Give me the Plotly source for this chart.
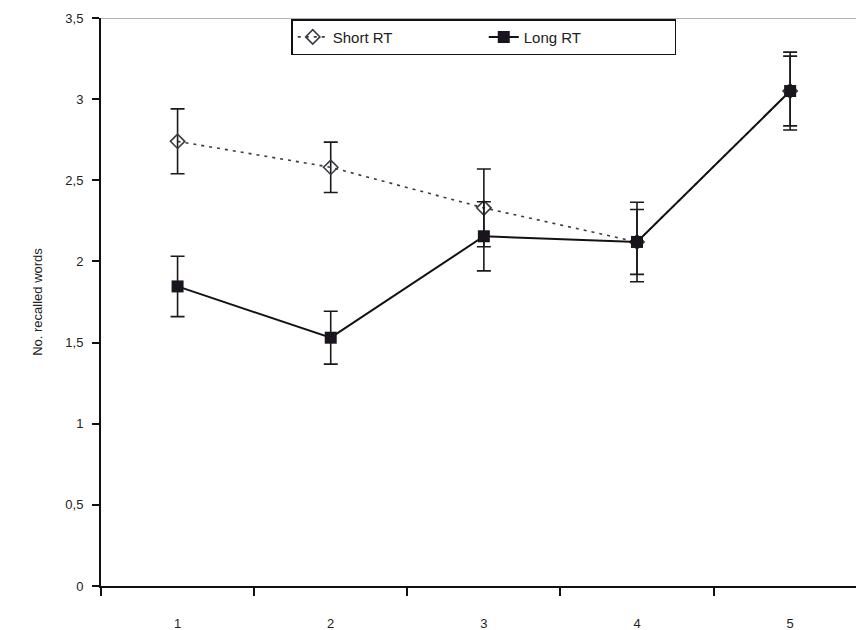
import plotly.graph_objects as go

sessions = [1, 2, 3, 4, 5]
short_rt = [2.74, 2.58, 2.33, 2.12, 3.05]
short_err = [0.20, 0.155, 0.24, 0.245, 0.24]
long_rt = [1.846, 1.53, 2.155, 2.12, 3.05]
long_err = [0.186, 0.163, 0.213, 0.20, 0.215]

y_ticks = [0, 0.5, 1, 1.5, 2, 2.5, 3, 3.5]
y_ticktext = ["0", "0,5", "1", "1,5", "2", "2,5", "3", "3,5"]
x_ticktext = ["1", "2", "3", "4", "5"]
x_boundaries = [0.5, 1.5, 2.5, 3.5, 4.5, 5.5]

FONT = "Liberation Sans, Arial, sans-serif"

fig = go.Figure()
fig.add_trace(go.Scatter(
    x=sessions, y=short_rt, name="Short RT", mode="lines+markers",
    line=dict(color="#3a3a40", width=1.6, dash="3px,5px"),
    marker=dict(symbol="diamond-open", size=11, color="#3a3a40", line=dict(width=1.6)),
    error_y=dict(type="data", array=short_err, visible=True, color="#1a1a1a", thickness=1.6, width=7),
))
fig.add_trace(go.Scatter(
    x=sessions, y=long_rt, name="Long RT", mode="lines+markers",
    line=dict(color="#151015", width=2),
    marker=dict(symbol="square", size=12, color="#1a141e"),
    error_y=dict(type="data", array=long_err, visible=True, color="#1a1a1a", thickness=1.6, width=7),
))

fig.add_shape(type="line", xref="paper", yref="y", x0=0, x1=1, y0=y_ticks[-1], y1=y_ticks[-1],
              line=dict(color="#8e9aa6", width=1.5), layer="below")

fig.update_layout(
    width=856, height=630,
    margin=dict(l=101, r=0, t=18, b=44),
    paper_bgcolor="white", plot_bgcolor="white",
    font=dict(family=FONT, color="#222222", size=12),
    showlegend=True,
    legend=dict(
        orientation="h", x=0.252, y=0.998, xanchor="left", yanchor="top",
        bordercolor="#111111", borderwidth=1.5, bgcolor="white",
        font=dict(size=15, family=FONT, color="#222222"),
        entrywidth=146, entrywidthmode="pixels",
    ),
    xaxis=dict(
        range=[0.5, 5.43], tickvals=sessions, ticktext=x_ticktext, ticks="",
        ticklabelstandoff=24, showgrid=False, zeroline=False,
        showline=True, linecolor="#111111", linewidth=2,
        tickfont=dict(size=13, family=FONT, color="#222222"),
        minor=dict(tickmode="array", tickvals=x_boundaries, ticks="outside", ticklen=8,
                   tickwidth=1.5, tickcolor="#111111", showgrid=False),
    ),
    yaxis=dict(
        range=[0, 3.5], tickvals=y_ticks, ticktext=y_ticktext, ticks="outside",
        ticklen=7, tickwidth=1.5, tickcolor="#111111", ticklabelstandoff=6,
        showgrid=False, zeroline=False,
        showline=True, linecolor="#111111", linewidth=2,
        tickfont=dict(size=13, family=FONT, color="#222222"),
        title=dict(text="No. recalled words", font=dict(size=13, family=FONT, color="#222222"), standoff=20),
    ),
)

fig.write_html("out.html")
